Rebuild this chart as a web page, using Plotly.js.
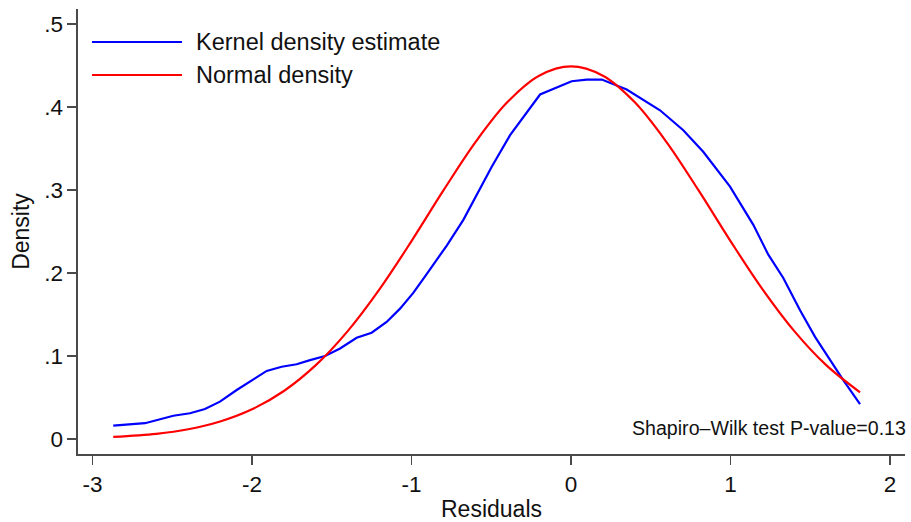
<!DOCTYPE html>
<html>
<head>
<meta charset="utf-8">
<script src="https://cdn.plot.ly/plotly-3.0.1.min.js"></script>
<style>
  html, body { margin: 0; padding: 0; background: #ffffff; }
  #chart { width: 911px; height: 522px; }
</style>
</head>
<body>
<div id="chart"></div>
<script>
// Kernel density estimate of the residuals
const kdeX = [-2.870, -2.671, -2.493, -2.389, -2.295, -2.201, -2.096, -1.992, -1.908, -1.814,
              -1.720, -1.636, -1.542, -1.448, -1.344, -1.250, -1.156, -1.072, -0.989, -0.915,
              -0.850, -0.779, -0.675, -0.591, -0.497, -0.382, -0.194, 0.004, 0.098, 0.193,
              0.349, 0.558, 0.704, 0.829, 0.997, 1.143, 1.237, 1.331, 1.436, 1.530,
              1.624, 1.707, 1.812];
const kdeY = [0.016, 0.019, 0.028, 0.031, 0.036, 0.045, 0.059, 0.072, 0.082, 0.087,
              0.090, 0.095, 0.100, 0.109, 0.122, 0.128, 0.141, 0.157, 0.176, 0.196,
              0.214, 0.233, 0.264, 0.294, 0.328, 0.366, 0.415, 0.431, 0.433, 0.433,
              0.421, 0.396, 0.372, 0.346, 0.304, 0.258, 0.222, 0.194, 0.155, 0.123,
              0.095, 0.071, 0.042];

// Normal density with the residuals' mean and standard deviation
const normX = [-2.87, -2.6, -2.4, -2.2, -2.0, -1.8, -1.6, -1.4, -1.2, -1.0, -0.8, -0.6,
               -0.4, -0.2, 0.0, 0.2, 0.4, 0.6, 0.8, 1.0, 1.2, 1.4, 1.6, 1.812];
const normY = [0.0025, 0.0062, 0.0117, 0.0210, 0.0357, 0.0578, 0.0889, 0.1299, 0.1805,
               0.2384, 0.2994, 0.3574, 0.4056, 0.4376, 0.4488, 0.4376, 0.4056, 0.3574,
               0.2994, 0.2384, 0.1805, 0.1299, 0.0889, 0.0562];

// Axis ticks
const xTickVals = [-3, -2, -1, 0, 1, 2];
const xTickText = ['-3', '-2', '-1', '0', '1', '2'];
const yTickVals = [0, 0.1, 0.2, 0.3, 0.4, 0.5];
const yTickText = ['0', '.1', '.2', '.3', '.4', '.5'];
const yGridVals = [0, 0.1, 0.2, 0.3, 0.4];

const seriesNames = ['Kernel density estimate', 'Normal density'];
const seriesColors = ['#0000ff', '#ff0000'];
const noteText = 'Shapiro\u2013Wilk test P-value=0.13';

const FONT = 'Liberation Sans, Arial, sans-serif';
const TEXT_COLOR = '#111111';
const AXIS_COLOR = '#4a4a4a';
const X_RANGE = [-3.091, 2.094];
const Y_RANGE = [-0.0181, 0.518];

const traces = [
  {
    x: kdeX, y: kdeY, type: 'scatter', mode: 'lines', name: seriesNames[0],
    line: { color: seriesColors[0], width: 2.2 }, showlegend: false, hoverinfo: 'skip'
  },
  {
    x: normX, y: normY, type: 'scatter', mode: 'lines', name: seriesNames[1],
    line: { color: seriesColors[1], width: 2.2, shape: 'spline', smoothing: 1 },
    showlegend: false, hoverinfo: 'skip'
  }
];

// Legend drawn as sample lines plus labels in the upper-left corner
const legendRows = [0.9258, 0.8517];
const shapes = legendRows.map((yy, i) => ({
  type: 'line', xref: 'paper', yref: 'paper',
  x0: 0.0169, x1: 0.1258, y0: yy, y1: yy,
  line: { color: seriesColors[i], width: 2.2 }
}));
const annotations = legendRows.map((yy, i) => ({
  xref: 'paper', yref: 'paper', x: 0.1400, y: yy,
  xanchor: 'left', yanchor: 'middle', showarrow: false,
  text: seriesNames[i], font: { family: FONT, size: 23.5, color: TEXT_COLOR }
}));
annotations.push({
  xref: 'paper', yref: 'paper', x: 1.004, y: 0.0584,
  xanchor: 'right', yanchor: 'middle', showarrow: false,
  text: noteText, font: { family: FONT, size: 19.6, color: TEXT_COLOR }
});

const layout = {
  width: 911, height: 522,
  margin: { l: 78, r: 6, t: 9, b: 68 },
  paper_bgcolor: '#ffffff', plot_bgcolor: '#ffffff',
  showlegend: false,
  font: { family: FONT, color: TEXT_COLOR },
  xaxis: {
    range: X_RANGE, tickmode: 'array', tickvals: xTickVals, ticktext: xTickText,
    showgrid: false, zeroline: false, showline: true, linecolor: AXIS_COLOR, linewidth: 1.6,
    ticks: 'outside', ticklen: 9, tickwidth: 1.6, tickcolor: AXIS_COLOR,
    tickfont: { family: FONT, size: 22.5, color: TEXT_COLOR },
    title: { text: 'Residuals', font: { family: FONT, size: 23, color: TEXT_COLOR }, standoff: 5 }
  },
  yaxis: {
    range: Y_RANGE, tickmode: 'array', tickvals: yTickVals, ticktext: yTickText,
    showgrid: false, zeroline: false, showline: true, linecolor: AXIS_COLOR, linewidth: 1.6,
    ticks: 'outside', ticklen: 9, tickwidth: 1.6, tickcolor: AXIS_COLOR,
    tickfont: { family: FONT, size: 22.5, color: TEXT_COLOR },
    title: { text: 'Density', font: { family: FONT, size: 23, color: TEXT_COLOR }, standoff: 8 }
  },
  yaxis2: {
    overlaying: 'y', side: 'left', range: Y_RANGE,
    tickmode: 'array', tickvals: yGridVals, showticklabels: false, ticks: '',
    showgrid: true, gridcolor: '#ebebeb', gridwidth: 1.2, zeroline: false, showline: false
  },
  shapes: shapes,
  annotations: annotations
};

Plotly.newPlot('chart', traces, layout, { staticPlot: true, displayModeBar: false });
</script>
</body>
</html>
